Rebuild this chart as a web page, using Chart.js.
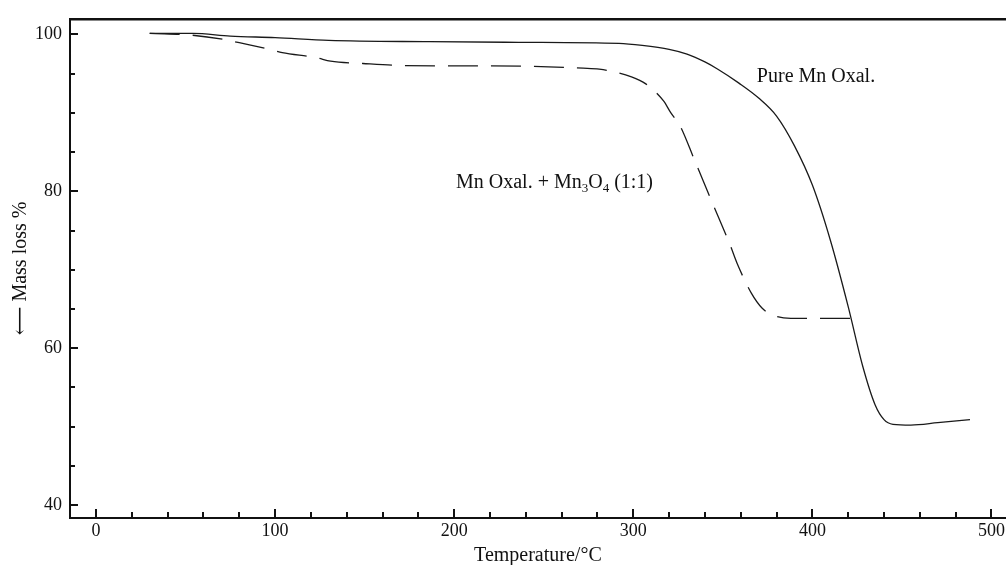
<!DOCTYPE html>
<html>
<head>
<meta charset="utf-8">
<title>TG curves</title>
<script src="https://cdn.jsdelivr.net/npm/chart.js@4/dist/chart.umd.min.js"></script>
<style>
    html, body { margin: 0; padding: 0; background: #fff; }
    #tg-chart { display: block; }
</style>
</head>
<body>
<canvas id="tg-chart" width="1007" height="565"></canvas>
<script>
/**
 * Термогравиметрические кривые: чистый оксалат Mn и смесь с Mn3O4
 */

// Чистый оксалат марганца (сплошная линия)
const pureTemp = [30, 54, 75, 100, 130, 186, 236, 292, 305, 320, 330, 340, 347, 359, 370, 380, 390, 400, 410, 420, 428, 435, 440, 445, 455, 470, 488];
const pureMass = [100.15, 100.15, 99.8, 99.6, 99.25, 99.08, 99.0, 98.86, 98.6, 98.1, 97.5, 96.5, 95.6, 93.8, 91.9, 89.6, 85.8, 80.8, 73.8, 65.3, 57.8, 52.8, 50.9, 50.3, 50.2, 50.5, 50.9];

// Оксалат Mn + Mn3O4 (1:1) (штриховая линия)
const mixTemp = [30, 54, 73, 80, 97, 104, 123, 131, 149, 171, 200, 240, 272, 281, 299, 307, 317, 321, 326, 334, 344, 354, 358, 366, 372, 378, 388, 428];
const mixMass = [100.15, 99.9, 99.3, 98.95, 98.1, 97.7, 97.05, 96.6, 96.3, 96.04, 96.0, 95.95, 95.7, 95.57, 94.6, 93.7, 91.5, 90.0, 88.4, 84.1, 78.6, 73.2, 70.8, 67.0, 65.1, 64.2, 63.8, 63.8];

// Деления осей
const xTickValues = [0, 20, 40, 60, 80, 100, 120, 140, 160, 180, 200, 220, 240, 260, 280, 300, 320, 340, 360, 380, 400, 420, 440, 460, 480, 500];
const xTickLabels = ['0', '100', '200', '300', '400', '500'];
const yTickValues = [40, 45, 50, 55, 60, 65, 70, 75, 80, 85, 90, 95, 100];
const yTickLabels = ['40', '60', '80', '100'];

const serif = '"Liberation Serif", "DejaVu Serif", serif';
const inkColor = '#111';

/**
 * Собирает точки {x, y} из двух массивов
 */
function toPoints(xs, ys) {
    return xs.map(function(x, i) {
        return { x: x, y: ys[i] };
    });
}

/**
 * Плагин: деления внутрь графика и подписи кривых
 */
const inwardTicksPlugin = {
    id: 'inwardTicks',
    afterDraw: function(chart) {
        const ctx = chart.ctx;
        const xScale = chart.scales.x;
        const yScale = chart.scales.y;
        const area = chart.chartArea;

        ctx.save();
        ctx.strokeStyle = inkColor;
        ctx.lineWidth = 2;

        // Деления по оси температуры
        xTickValues.forEach(function(v) {
            const px = Math.round(xScale.getPixelForValue(v));
            const len = v % 100 === 0 ? 9 : 6;
            ctx.beginPath();
            ctx.moveTo(px, area.bottom);
            ctx.lineTo(px, area.bottom - len);
            ctx.stroke();
        });

        // Деления по оси массы
        yTickValues.forEach(function(v) {
            const py = Math.round(yScale.getPixelForValue(v));
            const len = v % 20 === 0 ? 8 : 5;
            ctx.beginPath();
            ctx.moveTo(area.left, py);
            ctx.lineTo(area.left + len, py);
            ctx.stroke();
        });

        // Подписи кривых
        ctx.fillStyle = inkColor;
        ctx.textBaseline = 'middle';
        ctx.textAlign = 'left';
        ctx.font = '20px ' + serif;
        ctx.fillText('Pure Mn Oxal.', xScale.getPixelForValue(369), yScale.getPixelForValue(94.6));

        // Mn Oxal. + Mn3O4 (1:1) с нижними индексами
        let px = xScale.getPixelForValue(201);
        const py = yScale.getPixelForValue(81.1);
        const parts = [
            ['Mn Oxal. + Mn', false],
            ['3', true],
            ['O', false],
            ['4', true],
            [' (1:1)', false]
        ];
        parts.forEach(function(part) {
            ctx.font = (part[1] ? '13px ' : '20px ') + serif;
            ctx.fillText(part[0], px, part[1] ? py + 6 : py);
            px += ctx.measureText(part[0]).width;
        });

        ctx.restore();
    }
};

/**
 * Инициализация графика
 */
function initTgChart() {
    const ctx = document.getElementById('tg-chart').getContext('2d');

    new Chart(ctx, {
        type: 'line',
        data: {
            datasets: [
                {
                    label: 'Pure Mn Oxal.',
                    data: toPoints(pureTemp, pureMass),
                    borderColor: '#1a1a1a',
                    borderWidth: 1.3,
                    pointRadius: 0,
                    fill: false,
                    cubicInterpolationMode: 'monotone'
                },
                {
                    label: 'Mn Oxal. + Mn3O4 (1:1)',
                    data: toPoints(mixTemp, mixMass),
                    borderColor: '#1a1a1a',
                    borderWidth: 1.3,
                    borderDash: [30, 13],
                    pointRadius: 0,
                    fill: false,
                    cubicInterpolationMode: 'monotone'
                }
            ]
        },
        options: {
            responsive: false,
            animation: false,
            layout: { padding: { top: 15, right: 0, bottom: 0, left: 0 } },
            plugins: {
                legend: { display: false },
                tooltip: { enabled: false }
            },
            scales: {
                x: {
                    type: 'linear',
                    position: 'bottom',
                    min: -14.5,
                    max: 508,
                    afterBuildTicks: function(scale) {
                        scale.ticks = xTickValues.map(function(v) { return { value: v }; });
                    },
                    afterFit: function(scale) { scale.height = 47; },
                    grid: { display: false, drawTicks: false },
                    border: { display: true, color: inkColor, width: 2 },
                    ticks: {
                        autoSkip: false,
                        maxRotation: 0,
                        padding: 2,
                        color: inkColor,
                        font: { family: serif, size: 18 },
                        callback: function(value) {
                            const label = String(value);
                            return xTickLabels.indexOf(label) >= 0 ? label : '';
                        }
                    },
                    title: {
                        display: true,
                        text: 'Temperature/°C',
                        color: inkColor,
                        font: { family: serif, size: 20, lineHeight: 1 },
                        padding: { top: 0, bottom: -1 }
                    }
                },
                xTop: {
                    type: 'linear',
                    position: 'top',
                    min: -14.5,
                    max: 508,
                    afterFit: function(scale) { scale.height = 0; },
                    grid: { display: false, drawTicks: false },
                    border: { display: true, color: inkColor, width: 2.5 },
                    ticks: { display: false }
                },
                y: {
                    type: 'linear',
                    min: 38.35,
                    max: 102,
                    afterBuildTicks: function(scale) {
                        scale.ticks = yTickValues.map(function(v) { return { value: v }; });
                    },
                    afterFit: function(scale) { scale.width = 70; },
                    grid: { display: false, drawTicks: false },
                    border: { display: true, color: inkColor, width: 2 },
                    ticks: {
                        autoSkip: false,
                        padding: 8,
                        color: inkColor,
                        font: { family: serif, size: 18 },
                        callback: function(value) {
                            const label = String(value);
                            return yTickLabels.indexOf(label) >= 0 ? label : '';
                        }
                    },
                    title: {
                        display: true,
                        text: '⟵ Mass loss %',
                        color: inkColor,
                        font: { family: serif, size: 20, lineHeight: 1.2 },
                        padding: { top: 9, bottom: 0 }
                    }
                }
            }
        },
        plugins: [inwardTicksPlugin]
    });
}

initTgChart();
</script>
</body>
</html>
